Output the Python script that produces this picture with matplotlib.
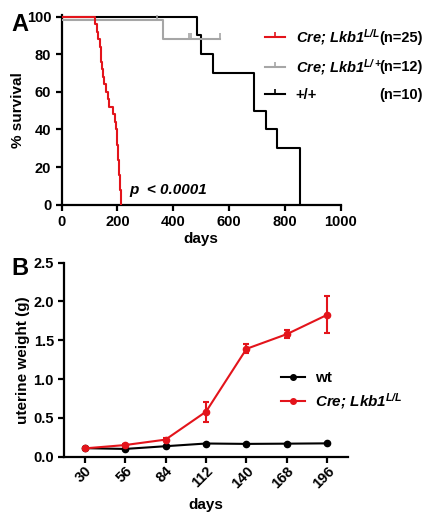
import numpy as np
import matplotlib
matplotlib.use('Agg')
import matplotlib.pyplot as plt
from matplotlib.lines import Line2D

plt.rcParams['font.family'] = ['Liberation Sans', 'DejaVu Sans']
plt.rcParams['font.weight'] = 'bold'
plt.rcParams['mathtext.fontset'] = 'custom'
plt.rcParams['mathtext.it'] = 'Liberation Sans:italic:bold'
plt.rcParams['mathtext.rm'] = 'Liberation Sans:italic:bold'
plt.rcParams['mathtext.bf'] = 'Liberation Sans:italic:bold'

RED = '#e3141b'
GREY = '#a6a6a6'

# --- Panel A: Kaplan-Meier survival ---
red_t = [0, 120, 125, 130, 137, 140, 142, 145, 148, 152, 158, 165, 170, 185,
         192, 195, 197, 199, 201, 203, 205, 207, 209, 210, 211, 213]
red_s = [100, 96, 92, 88, 84, 80, 76, 72, 68, 64, 60, 56, 52, 48,
         44, 40, 36, 32, 28, 24, 20, 16, 12, 8, 4, 0]
grey_t = [0, 364, 568]
grey_s = [98.5, 88, 88]
grey_cens_t = [341, 455, 463, 568]
grey_cens_s = [98.5, 88, 88, 88]
black_t = [0, 484, 499, 542, 691, 732, 771, 853]
black_s = [100, 90, 80, 70, 50, 40, 30, 0]

km_labels = [r'Cre; Lkb1$^{L/L}$', r'Cre; Lkb1$^{L/+}$', '+/+']
km_n = ['(n=25)', '(n=12)', '(n=10)']

# --- Panel B: uterine weight ---
days_b = ['30', '56', '84', '112', '140', '168', '196']
wt_w = [0.11, 0.10, 0.135, 0.17, 0.165, 0.168, 0.172]
cre_w = [0.107, 0.15, 0.22, 0.58, 1.39, 1.58, 1.83]
cre_err = [0.01, 0.012, 0.015, 0.13, 0.06, 0.05, 0.235]
b_labels = ['wt', r'Cre; Lkb1$^{L/L}$']

W, H = 430, 523
fig = plt.figure(figsize=(W / 100, H / 100), dpi=100)

def style_axes(ax):
    for s in ['top', 'right']:
        ax.spines[s].set_visible(False)
    for s in ['left', 'bottom']:
        ax.spines[s].set_linewidth(1.6)
    ax.tick_params(width=1.6, length=4, labelsize=10.5, direction='out')
    for lab in ax.get_xticklabels() + ax.get_yticklabels():
        lab.set_fontweight('bold')

axA = fig.add_axes([61.7 / W, 1 - 204.7 / H, 278.8 / W, 189.9 / H])
axA.step(black_t, black_s, where='post', color='black', lw=1.5, zorder=2)
axA.step(grey_t, grey_s, where='post', color=GREY, lw=1.5, zorder=3)
axA.plot(grey_cens_t, grey_cens_s, ls='none', marker=2, ms=4, mew=1.2, color=GREY, zorder=3)
axA.step(red_t, red_s, where='post', color=RED, lw=1.5, zorder=4)
axA.set_xlim(0, 1000)
axA.set_ylim(0, 101)
axA.set_xticks(np.arange(0, 1001, 200))
axA.set_yticks(np.arange(0, 101, 20))
axA.set_xlabel('days', fontsize=11, fontweight='bold', labelpad=2)
axA.set_ylabel('% survival', fontsize=11, fontweight='bold', labelpad=1)
axA.text(242, 5.5, 'p  < 0.0001', fontsize=11, fontweight='bold', fontstyle='italic')
style_axes(axA)

handlesA = [Line2D([], [], color=c, lw=1.5, marker=2, ms=3.5, mew=1.2) for c in [RED, GREY, 'black']]
legA = axA.legend(handlesA, km_labels, loc='upper left',
                  bbox_to_anchor=(265 / W, 1 - 27 / H), bbox_transform=fig.transFigure,
                  frameon=False, fontsize=10.5, borderpad=0, borderaxespad=0,
                  handlelength=1.35, handletextpad=0.75, labelspacing=0.72)
for t in legA.get_texts()[:2]:
    t.set_fontstyle('italic')
for y, n in zip([38, 67, 95], km_n):
    fig.text(423 / W, 1 - y / H, n, ha='right', va='center', fontsize=10.5, fontweight='bold')

fig.text(11 / W, 1 - 31 / H, 'A', fontsize=17, fontweight='bold')

axB = fig.add_axes([64.3 / W, 1 - 456.7 / H, 283.4 / W, 194 / H])
x = np.arange(len(days_b))
axB.plot(x, wt_w, color='black', lw=1.5, marker='o', ms=4.5, zorder=3)
axB.errorbar(x, cre_w, yerr=cre_err, color=RED, lw=1.5, marker='o', ms=4.5,
             capsize=2.5, elinewidth=1.5, capthick=1.5, zorder=4)
axB.set_xlim(-0.5, 6.5)
axB.set_ylim(0, 2.5)
axB.set_xticks(x)
axB.set_xticklabels(days_b, rotation=45, ha='right', rotation_mode='anchor')
axB.set_yticks(np.arange(0, 2.51, 0.5))
axB.set_yticklabels([f'{v:.1f}' for v in np.arange(0, 2.51, 0.5)])
axB.set_xlabel('days', fontsize=11, fontweight='bold', labelpad=5)
axB.set_ylabel('uterine weight (g)', fontsize=11, fontweight='bold', labelpad=2)
style_axes(axB)
axB.tick_params(axis='x', pad=1)
handlesB = [Line2D([], [], color=c, lw=1.5, marker='o', ms=4) for c in ['black', RED]]
legB = axB.legend(handlesB, b_labels, loc='upper left', bbox_to_anchor=(281 / W, 1 - 371 / H),
                  bbox_transform=fig.transFigure, frameon=False, fontsize=11, borderpad=0,
                  borderaxespad=0, handlelength=1.6, handletextpad=0.6, labelspacing=0.4)
legB.get_texts()[1].set_fontstyle('italic')

fig.text(11 / W, 1 - 275 / H, 'B', fontsize=17, fontweight='bold')

fig.savefig('out.png', dpi=100)
